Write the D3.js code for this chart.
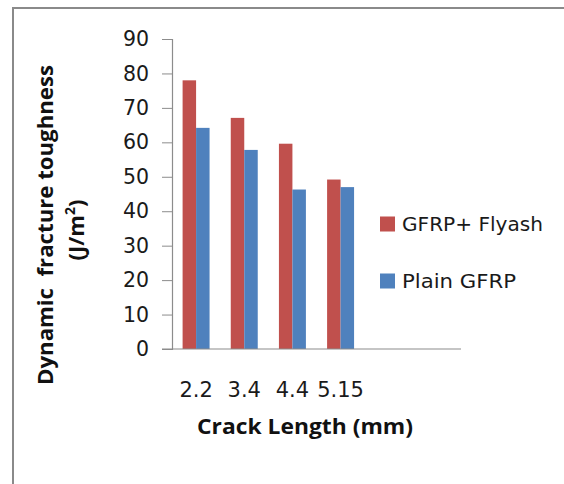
<!DOCTYPE html>
<html><head><meta charset="utf-8">
<script src="https://cdn.jsdelivr.net/npm/d3@7"></script>
<style>body{margin:0;background:#fff}svg{display:block}</style>
</head><body>
<svg id="c" width="564" height="484"></svg>
<script>
const categories = ["2.2","3.4","4.4","5.15","",""];
const seriesNames = ["GFRP+ Flyash","Plain GFRP"];
const flyash = [78, 67.1, 59.6, 49.2, null, null];
const plain  = [64.2, 57.8, 46.3, 47.0, null, null];
const yTicks = [0,10,20,30,40,50,60,70,80,90];
const colors = ["#C0504D","#4F81BD"];

const svg = d3.select("#c");
const font = "'DejaVu Sans', sans-serif";
const bfont = "'Open Sans', 'DejaVu Sans', sans-serif";

// frame
svg.append("path").attr("d","M13,484 V8 H564").attr("fill","none").attr("stroke","#8a8a8a").attr("stroke-width",2);

const L=172, R=461, T=39, B=349;
const x = d3.scaleBand().domain(categories.map((c,i)=>i)).range([L,R]).paddingInner(0.44).paddingOuter(0.22);
const xs = d3.scaleBand().domain([0,1]).range([0,x.bandwidth()]);
const y = d3.scaleLinear().domain([0,90]).range([B,T]);

// y axis
const ya = svg.append("g").attr("transform",`translate(${L},0)`)
  .call(d3.axisLeft(y).tickValues(yTicks).tickSize(10).tickPadding(13));
ya.select(".domain").attr("stroke","#8c8c8c").attr("stroke-width",1.2);
ya.selectAll(".tick line").attr("stroke","#8c8c8c");
ya.selectAll("text").attr("font-family",font).attr("font-size",20.5).attr("fill","#1a1a1a");

// bars
const data = [flyash, plain];
data.forEach((arr,s)=>{
  svg.append("g").selectAll("rect").data(arr.map((v,i)=>({v,i})).filter(d=>d.v!=null))
    .join("rect")
    .attr("x",d=>x(d.i)+xs(s)).attr("width",xs.bandwidth())
    .attr("y",d=>y(d.v)).attr("height",d=>B-y(d.v))
    .attr("fill",colors[s]);
});

// x axis
const xa = svg.append("g").attr("transform",`translate(0,${B})`)
  .call(d3.axisBottom(x).tickFormat(i=>categories[i]).tickSize(0).tickPadding(33));
xa.select(".domain").remove();
svg.append("line").attr("x1",162).attr("x2",R).attr("y1",B).attr("y2",B).attr("stroke","#8c8c8c").attr("stroke-width",1.2);
xa.selectAll("text").attr("font-family",font).attr("font-size",21).attr("fill","#1a1a1a");

// axis titles
svg.append("text").attr("x",305).attr("y",434).attr("text-anchor","middle")
  .attr("font-family",bfont).attr("font-weight","bold").attr("font-size",21).attr("fill","#111")
  .attr("textLength",216).attr("lengthAdjust","spacingAndGlyphs")
  .text("Crack Length (mm)");
const yt = svg.append("g").attr("transform","translate(0,225) rotate(-90)");
yt.append("text").attr("x",0).attr("y",53).attr("text-anchor","middle")
  .attr("font-family",bfont).attr("font-weight","bold").attr("font-size",21).attr("fill","#111")
  .attr("textLength",320).attr("lengthAdjust","spacingAndGlyphs")
  .attr("xml:space","preserve").text("Dynamic  fracture toughness");
const t2 = yt.append("text").attr("x",-5).attr("y",84).attr("text-anchor","middle")
  .attr("font-family",bfont).attr("font-weight","bold").attr("font-size",22).attr("fill","#111");
t2.append("tspan").text("(J/m");
t2.append("tspan").attr("font-size",14).attr("dy",-9).text("2");
t2.append("tspan").attr("dy",9).text(")");

// legend
const legendWidths = [141,114];
const lg = svg.append("g");
seriesNames.forEach((n,i)=>{
  const cy = 224 + i*57;
  lg.append("rect").attr("x",380).attr("y",cy-7.5).attr("width",15).attr("height",15).attr("fill",colors[i]);
  lg.append("text").attr("x",402).attr("y",cy).attr("dy","0.36em")
    .attr("font-family",font).attr("font-size",20).attr("fill","#1a1a1a")
    .attr("textLength",legendWidths[i]).attr("lengthAdjust","spacingAndGlyphs").text(n);
});
</script>
</body></html>
